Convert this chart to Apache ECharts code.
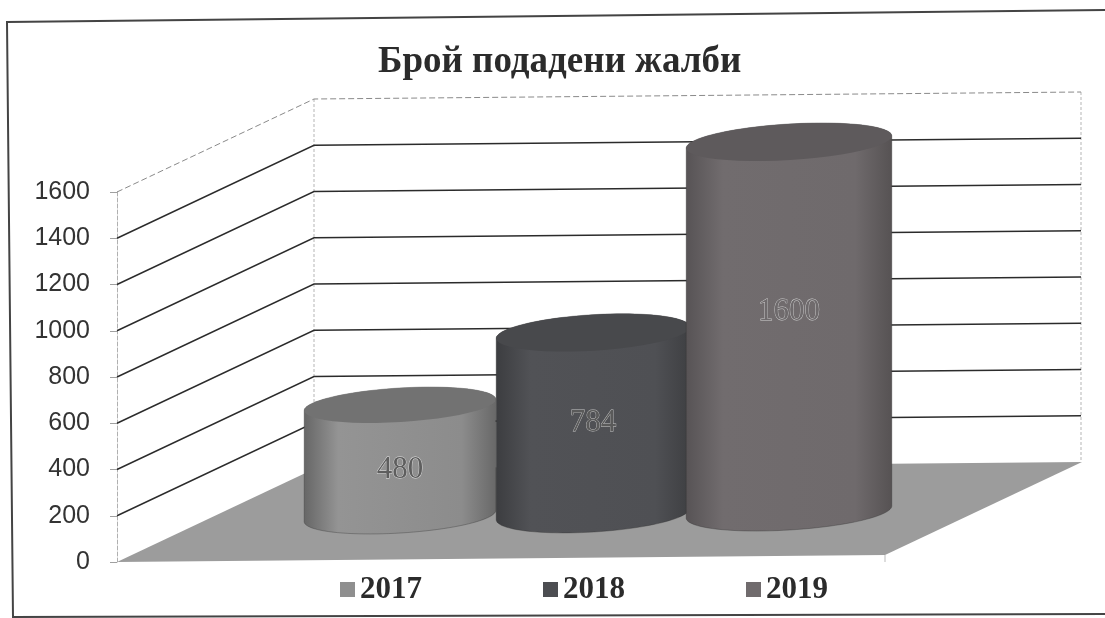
<!DOCTYPE html>
<html><head><meta charset="utf-8">
<style>html,body{margin:0;padding:0;background:#fff}#c{width:1105px;height:618px}</style>
<script src="https://cdn.jsdelivr.net/npm/echarts@6/dist/echarts.min.js"></script>
</head><body><div id="c"></div>
<script>
const chartTitle = 'Брой подадени жалби';
const categories = [''];
const years = ['2017', '2018', '2019'];
const complaints = [480, 784, 1600];
const tickValues = [0, 200, 400, 600, 800, 1000, 1200, 1400, 1600];

// styling / projection of the pseudo-3D scene
const WALL = {dx: 197, dy: -93, backWidth: 767, backRise: 7};
const CYL = {
  shiftX: [-101, 92, 288], rx: [96, 97, 103], ry: [17, 18, 18], shiftY: [-46, -48, -50], labelDy: [9, 0, -15],
  body: [['#666666', '#949494', '#8c8c8c', '#686868'], ['#3c3d40', '#515256', '#4f5054', '#3e3f42'], ['#575355', '#716c6e', '#6f6a6c', '#565253']],
  cap: ['#727272', '#48494c', '#5e5a5c'],
  legend: ['#8f8f8f', '#4c4d51', '#706b6d'],
  text: ['#5e5e5e', '#5a5a5a', '#6e6a6c'],
  textEdge: ['#e0e0e0', '#c4c4c4', '#d0d0d0']
};
const TILT = -3.5 * Math.PI / 180;
const SERIF = '"Liberation Serif", "DejaVu Serif", serif';

function ell(cx, cy, rx, ry, t) {
  const c = Math.cos(t), s = Math.sin(t);
  return [cx + rx * c * Math.cos(TILT) - ry * s * Math.sin(TILT),
          cy + rx * c * Math.sin(TILT) + ry * s * Math.cos(TILT)];
}
function arc(cx, cy, rx, ry, a, b) {
  const n = 48, p = [];
  for (let i = 0; i <= n; i++) p.push(ell(cx, cy, rx, ry, a + (b - a) * i / n));
  return p;
}
function hGrad(stops) {
  return {type: 'linear', x: 0, y: 0, x2: 1, y2: 0, colorStops: [
    {offset: 0, color: stops[0]}, {offset: 0.18, color: stops[1]}, {offset: 0.82, color: stops[2]}, {offset: 1, color: stops[3]}]};
}
function renderWall(params, api) {
  const v = api.value(1), p = api.coord([0, v]), x0 = params.coordSys.x;
  const bx = x0 + WALL.dx, by = p[1] + WALL.dy;
  const top = v === tickValues[tickValues.length - 1];
  const pts = [[x0, p[1]], [bx, by], [bx + WALL.backWidth, by - WALL.backRise]];
  const kids = [];
  if (v !== 0) kids.push({type: 'polyline', shape: {points: pts},
    style: {fill: 'none', stroke: top ? '#8a8a8a' : '#2b2b2b', lineWidth: top ? 1 : 1.4, lineDash: top ? [6, 3] : null}});
  return {type: 'group', children: kids};
}
function renderBack(params, api) {
  const cs = params.coordSys, x0 = cs.x, b = api.coord([0, 0])[1], t = api.coord([0, tickValues[tickValues.length - 1]])[1];
  const bx = x0 + WALL.dx;
  const st = {fill: 'none', stroke: '#b5b5b5', lineWidth: 1, lineDash: [3, 2]};
  return {type: 'group', children: [
    {type: 'line', shape: {x1: bx, y1: t + WALL.dy, x2: bx, y2: b + WALL.dy}, style: st},
    {type: 'line', shape: {x1: bx + WALL.backWidth, y1: t + WALL.dy - WALL.backRise, x2: bx + WALL.backWidth, y2: b + WALL.dy - WALL.backRise}, style: st}
  ]};
}
function renderFloor(params, api) {
  const cs = params.coordSys, x0 = cs.x, y0 = api.coord([0, 0])[1], w = cs.width;
  const pts = [[x0, y0], [x0 + w, y0 - WALL.backRise], [x0 + w + WALL.dx, y0 + WALL.dy - WALL.backRise], [x0 + WALL.dx, y0 + WALL.dy]];
  return {type: 'group', children: [
    {type: 'polygon', shape: {points: pts}, style: {fill: '#9c9c9c', stroke: null}},
    {type: 'line', shape: {x1: x0 + w, y1: y0 - WALL.backRise, x2: x0 + w, y2: y0}, style: {stroke: '#bbb', lineWidth: 1}}
  ]};
}
function cylinder(i) {
  return function (params, api) {
    const v = api.value(1), base = api.coord([0, 0]), top = api.coord([0, v]);
    const cx = base[0] + CYL.shiftX[i], rx = CYL.rx[i], ry = CYL.ry[i];
    const by = base[1] + CYL.shiftY[i], ty = top[1] + CYL.shiftY[i];
    const body = arc(cx, by, rx, ry, Math.PI, 0).concat(arc(cx, ty, rx, ry, 0, -Math.PI));
    return {type: 'group', children: [
      {type: 'polygon', shape: {points: body}, style: {fill: hGrad(CYL.body[i]), stroke: 'rgba(50,50,50,0.35)', lineWidth: 1}},
      {type: 'polygon', shape: {points: arc(cx, ty, rx, ry, 0, 2 * Math.PI)}, style: {fill: CYL.cap[i], stroke: null}},
      {type: 'text', x: cx, y: (by + ty) / 2 + CYL.labelDy[i], style: {
        text: String(v), font: '31px ' + SERIF, fill: CYL.text[i], stroke: CYL.textEdge[i], lineWidth: 0.8,
        align: 'center', verticalAlign: 'middle'}}
    ]};
  };
}

const chart = echarts.init(document.getElementById('c'), null, {renderer: 'canvas'});
chart.setOption({
  animation: false,
  backgroundColor: '#fff',
  title: {text: chartTitle, left: 378, top: 44, padding: 0,
    textStyle: {fontFamily: SERIF, fontWeight: 'bold', fontSize: 37, color: '#2b2b2b'}},
  legend: {left: 340, top: 574, padding: 0, itemGap: 121, itemWidth: 15, itemHeight: 15, icon: 'rect', data: years,
    selectedMode: false, textStyle: {fontFamily: SERIF, fontWeight: 'bold', fontSize: 31, color: '#2b2b2b', padding: [0, 0, 0, 0]}},
  grid: {left: 117, top: 192, width: 768, height: 370},
  xAxis: {type: 'category', data: categories, axisLine: {show: false}, axisTick: {show: false}, axisLabel: {show: false}},
  yAxis: {type: 'value', min: 0, max: 1600, interval: 200,
    axisLine: {show: true, lineStyle: {color: '#b0b0b0', type: 'dashed', width: 1}},
    axisTick: {show: true, length: 7, lineStyle: {color: '#a0a0a0'}},
    splitLine: {show: false},
    axisLabel: {margin: 27, formatter: v => String(v), padding: [5, 0, 0, 0], fontFamily: '"Liberation Sans", Arial, sans-serif', fontSize: 25, color: '#333'}},
  graphic: [{type: 'polyline', z: -1, shape: {points: [[1105, 10], [7, 22], [13, 617], [1105, 614]]},
    style: {fill: 'none', stroke: '#444', lineWidth: 2}}],
  series: [
    {type: 'custom', silent: true, renderItem: renderBack, data: [[0, 0]], encode: {x: 0, y: 1}, z: 1},
    {type: 'custom', silent: true, renderItem: renderWall, data: tickValues.map(t => [0, t]), encode: {x: 0, y: 1}, z: 2},
    {type: 'custom', silent: true, renderItem: renderFloor, data: [[0, 0]], encode: {x: 0, y: 1}, z: 3}
  ].concat(years.map((y, i) => ({
    type: 'custom', name: y, silent: true, renderItem: cylinder(i), data: [[0, complaints[i]]],
    encode: {x: 0, y: 1}, z: 4 + i, clip: false, itemStyle: {color: CYL.legend[i]}
  })))
});
</script></body></html>
